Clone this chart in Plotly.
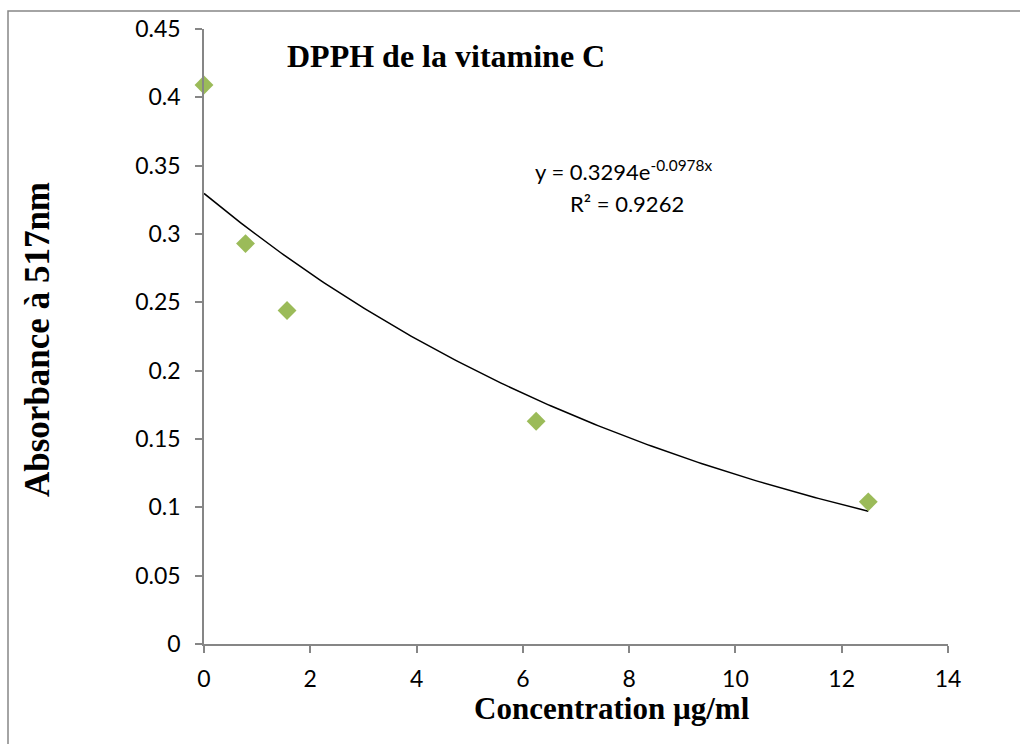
import numpy as np
import plotly.graph_objects as go

# Data
concentration = [0, 0.78125, 1.5625, 6.25, 12.5]
absorbance = [0.409, 0.293, 0.244, 0.163, 0.104]
x_ticks = [0, 2, 4, 6, 8, 10, 12, 14]
y_ticks = [0, 0.05, 0.1, 0.15, 0.2, 0.25, 0.3, 0.35, 0.4, 0.45]
y_tick_labels = ["0", "0.05", "0.1", "0.15", "0.2", "0.25", "0.3", "0.35", "0.4", "0.45"]

# Exponential trendline (least squares on log values, like Excel)
b, ln_a = np.polyfit(concentration, np.log(absorbance), 1)
a = np.exp(ln_a)
x_fit = np.linspace(min(concentration), max(concentration), 200)
y_fit = a * np.exp(b * x_fit)

W, H = 1020, 744
ml, mr, mt, mb = 204, 72, 29, 100
pw, ph = W - ml - mr, H - mt - mb

def px(xp):
    return (xp - ml) / pw

def py(yp):
    return (H - mb - yp) / ph

AXIS = "#868686"
TICKFONT = dict(family="Lato, Calibri, sans-serif", size=23, color="black")
SERIF = "Liberation Serif, Times New Roman, serif"

fig = go.Figure()
fig.add_trace(go.Scatter(
    x=x_fit, y=y_fit, mode="lines",
    line=dict(color="black", width=1.5), showlegend=False, hoverinfo="skip"))
fig.add_trace(go.Scatter(
    x=concentration, y=absorbance, mode="markers",
    marker=dict(symbol="diamond", size=14.5, color="#9BBB59", line=dict(width=0)),
    cliponaxis=False, showlegend=False))

fig.update_layout(
    width=W, height=H,
    margin=dict(l=ml, r=mr, t=mt, b=mb),
    paper_bgcolor="white", plot_bgcolor="white",
    xaxis=dict(range=[0, 14], tickvals=x_ticks, ticktext=[str(v) for v in x_ticks],
               showgrid=False, zeroline=False, showline=True, linecolor=AXIS, linewidth=1.5,
               ticks="outside", ticklen=7, tickwidth=1.5, tickcolor=AXIS,
               tickfont=TICKFONT, ticklabelstandoff=7),
    yaxis=dict(range=[0, 0.45], tickvals=y_ticks, ticktext=y_tick_labels,
               showgrid=False, zeroline=False, showline=True, linecolor=AXIS, linewidth=1.5,
               ticks="outside", ticklen=7, tickwidth=1.5, tickcolor=AXIS,
               tickfont=TICKFONT, ticklabelstandoff=10),
)

fig.add_shape(type="rect", xref="paper", yref="paper",
              x0=px(8), x1=px(1040), y0=py(760), y1=py(11),
              line=dict(color=AXIS, width=1.5), layer="below")

fig.add_annotation(xref="paper", yref="paper", x=px(446), y=py(56),
                   text="<b>DPPH de la vitamine C</b>", showarrow=False,
                   font=dict(family=SERIF, size=32, color="black"),
                   xanchor="center", yanchor="middle")
fig.add_annotation(xref="paper", yref="paper", x=px(612), y=py(708),
                   text="<b>Concentration µg/ml</b>", showarrow=False,
                   font=dict(family=SERIF, size=31, color="black"),
                   xanchor="center", yanchor="middle")
fig.add_annotation(xref="paper", yref="paper", x=px(38), y=py(340),
                   text="<b>Absorbance à 517nm</b>", showarrow=False, textangle=-90,
                   font=dict(family=SERIF, size=35, color="black"),
                   xanchor="center", yanchor="middle")
fig.add_annotation(xref="paper", yref="paper", x=px(533), y=py(170),
                   text="y = 0.3294e<sup>-0.0978x</sup>", showarrow=False,
                   font=dict(family="Lato, Calibri, sans-serif", size=22, color="black"),
                   xanchor="left", yanchor="middle")
fig.add_annotation(xref="paper", yref="paper", x=px(627), y=py(203),
                   text="R² = 0.9262", showarrow=False,
                   font=dict(family="Lato, Calibri, sans-serif", size=22, color="black"),
                   xanchor="center", yanchor="middle")

fig.write_html("out.html")
